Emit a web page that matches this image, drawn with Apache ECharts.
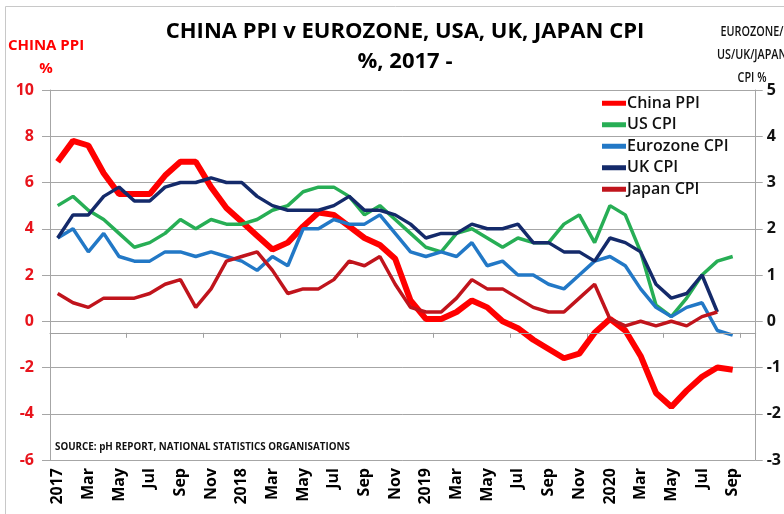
<!DOCTYPE html>
<html><head><meta charset="utf-8">
<script src="https://cdn.jsdelivr.net/npm/echarts@6/dist/echarts.min.js"></script>
<style>html,body{margin:0;padding:0;background:#fff}#c{width:784px;height:514px}</style>
</head><body><div id="c"></div>
<script>
const categories = [
 'Jan 2017','Feb 2017','Mar 2017','Apr 2017','May 2017','Jun 2017','Jul 2017','Aug 2017','Sep 2017','Oct 2017','Nov 2017','Dec 2017',
 'Jan 2018','Feb 2018','Mar 2018','Apr 2018','May 2018','Jun 2018','Jul 2018','Aug 2018','Sep 2018','Oct 2018','Nov 2018','Dec 2018',
 'Jan 2019','Feb 2019','Mar 2019','Apr 2019','May 2019','Jun 2019','Jul 2019','Aug 2019','Sep 2019','Oct 2019','Nov 2019','Dec 2019',
 'Jan 2020','Feb 2020','Mar 2020','Apr 2020','May 2020','Jun 2020','Jul 2020','Aug 2020','Sep 2020','Oct 2020'];
const chinaPPI = [6.9,7.8,7.6,6.4,5.5,5.5,5.5,6.3,6.9,6.9,5.8,4.9,
 4.3,3.7,3.1,3.4,4.1,4.7,4.6,4.1,3.6,3.3,2.7,0.9,
 0.1,0.1,0.4,0.9,0.6,0.0,-0.3,-0.8,-1.2,-1.6,-1.4,-0.5,
 0.1,-0.4,-1.5,-3.1,-3.7,-3.0,-2.4,-2.0,-2.1];
const usCPI = [2.5,2.7,2.4,2.2,1.9,1.6,1.7,1.9,2.2,2.0,2.2,2.1,
 2.1,2.2,2.4,2.5,2.8,2.9,2.9,2.7,2.3,2.5,2.2,1.9,
 1.6,1.5,1.9,2.0,1.8,1.6,1.8,1.7,1.7,2.1,2.3,1.7,
 2.5,2.3,1.5,0.35,0.1,0.5,1.0,1.3,1.4];
const eurozoneCPI = [1.8,2.0,1.5,1.9,1.4,1.3,1.3,1.5,1.5,1.4,1.5,1.4,
 1.3,1.1,1.4,1.2,2.0,2.0,2.2,2.1,2.1,2.3,1.9,1.5,
 1.4,1.5,1.4,1.7,1.2,1.3,1.0,1.0,0.8,0.7,1.0,1.3,
 1.4,1.2,0.7,0.3,0.1,0.3,0.4,-0.2,-0.3];
const ukCPI = [1.8,2.3,2.3,2.7,2.9,2.6,2.6,2.9,3.0,3.0,3.1,3.0,
 3.0,2.7,2.5,2.4,2.4,2.4,2.5,2.7,2.4,2.4,2.3,2.1,
 1.8,1.9,1.9,2.1,2.0,2.0,2.1,1.7,1.7,1.5,1.5,1.3,
 1.8,1.7,1.5,0.8,0.5,0.6,1.0,0.2];
const japanCPI = [0.6,0.4,0.3,0.5,0.5,0.5,0.6,0.8,0.9,0.3,0.7,1.3,
 1.4,1.5,1.1,0.6,0.7,0.7,0.9,1.3,1.2,1.4,0.8,0.3,
 0.2,0.2,0.5,0.9,0.7,0.7,0.5,0.3,0.2,0.2,0.5,0.8,
 0.05,-0.1,0.0,-0.1,0.0,-0.1,0.1,0.2];
const leftTicks = {min:-6, max:10, step:2};
const rightTicks = {min:-3, max:5, step:1};
const categoryAxisCross = -0.5; // left-axis value where the category axis line sits

const FONT = 'Open Sans';
const chart = echarts.init(document.getElementById('c'), null, {renderer:'canvas'});
function xLabel(v){ const p = v.split(' '); return p[0]==='Jan' ? p[1] : p[0]; }
const grey = '#A6A6A6';
chart.setOption({
  animation:false,
  backgroundColor:'#fff',
  title:{text:'CHINA PPI v EUROZONE, USA, UK, JAPAN CPI\n%, 2017 -', left:400, top:12, textAlign:'center',
    textStyle:{fontFamily:FONT, fontWeight:'bold', fontSize:22, lineHeight:30, color:'#000'}},
  graphic:[
    {type:'rect', shape:{x:5.5,y:6.5,width:900,height:700}, style:{fill:'none', stroke:'#C8C8C8', lineWidth:1}, silent:true},
    {type:'text', x:46, y:57, style:{text:'CHINA PPI\n%', fill:'#FF0000', font:'bold 15px "Open Sans"', align:'center', verticalAlign:'middle', lineHeight:23}},
    {type:'text', x:752, y:55, scaleX:0.72, style:{text:'EUROZONE/\nUS/UK/JAPAN\nCPI %', fill:'#111', font:'600 15px "Open Sans"', align:'center', verticalAlign:'middle', lineHeight:23}},
    {type:'text', x:55, y:447, style:{text:'SOURCE: pH REPORT, NATIONAL STATISTICS ORGANISATIONS', fill:'#111', font:'bold 9.8px "Open Sans"', verticalAlign:'middle'}}
  ],
  legend:{orient:'vertical', left:597, top:90, itemWidth:24, itemHeight:5, itemGap:5, icon:'rect',
    textStyle:{fontFamily:FONT, fontWeight:600, fontSize:16, lineHeight:16.5, color:'#111', padding:[0,0,0,-4]},
    data:['China PPI','US CPI','Eurozone CPI','UK CPI','Japan CPI']},
  grid:{left:50, right:28, top:90, bottom:54, containLabel:false},
  xAxis:[
    {type:'category', data:categories, boundaryGap:true,
     axisLine:{show:false, onZero:false}, axisTick:{show:false}, splitLine:{show:false},
     axisLabel:{interval:1, rotate:90, margin:8, formatter:xLabel, fontFamily:FONT, fontWeight:'bold', fontSize:16, color:'#000'}},
    {type:'category', data:categories, boundaryGap:true, position:'bottom',
     axisLine:{show:true, onZero:true, onZeroAxisIndex:2, lineStyle:{color:'#A0A0A0', width:1}},
     axisTick:{show:true, length:5, lineStyle:{color:'#A0A0A0'}},
     axisLabel:{show:false}, splitLine:{show:false}}
  ],
  yAxis:[
    {type:'value', min:leftTicks.min, max:leftTicks.max, interval:leftTicks.step, position:'left',
     axisLine:{show:true, lineStyle:{color:grey}}, axisTick:{show:true, length:8, lineStyle:{color:grey}},
     splitLine:{show:true, lineStyle:{color:grey, width:1}},
     axisLabel:{margin:16, fontFamily:FONT, fontWeight:'bold', fontSize:16, color:'#E8141C'}},
    {type:'value', min:rightTicks.min, max:rightTicks.max, interval:rightTicks.step, position:'right',
     axisLine:{show:true, lineStyle:{color:grey}}, axisTick:{show:true, length:7, lineStyle:{color:grey}},
     splitLine:{show:false},
     axisLabel:{margin:11, fontFamily:FONT, fontWeight:'bold', fontSize:16, color:'#111'}},
    {type:'value', show:false, min:leftTicks.min - categoryAxisCross, max:leftTicks.max - categoryAxisCross}
  ],
  series:[
    {name:'China PPI', type:'line', data:chinaPPI, yAxisIndex:0, showSymbol:false, color:'#FF0000', lineStyle:{width:6, color:'#FF0000'},
     markLine:{silent:true, symbol:'none', label:{show:false}, lineStyle:{color:'#A0A0A0', width:1, type:'solid'},
       data:[{yAxis:categoryAxisCross}]}},
    {name:'US CPI', type:'line', data:usCPI, yAxisIndex:1, showSymbol:false, color:'#27AE55', lineStyle:{width:3.5, color:'#27AE55'}},
    {name:'Eurozone CPI', type:'line', data:eurozoneCPI, yAxisIndex:1, showSymbol:false, color:'#2278C6', lineStyle:{width:3.5, color:'#2278C6'}},
    {name:'UK CPI', type:'line', data:ukCPI, yAxisIndex:1, showSymbol:false, color:'#142A6A', lineStyle:{width:3.5, color:'#142A6A'}},
    {name:'Japan CPI', type:'line', data:japanCPI, yAxisIndex:1, showSymbol:false, color:'#C0141C', lineStyle:{width:3.5, color:'#C0141C'}}
  ]
});
</script></body></html>
